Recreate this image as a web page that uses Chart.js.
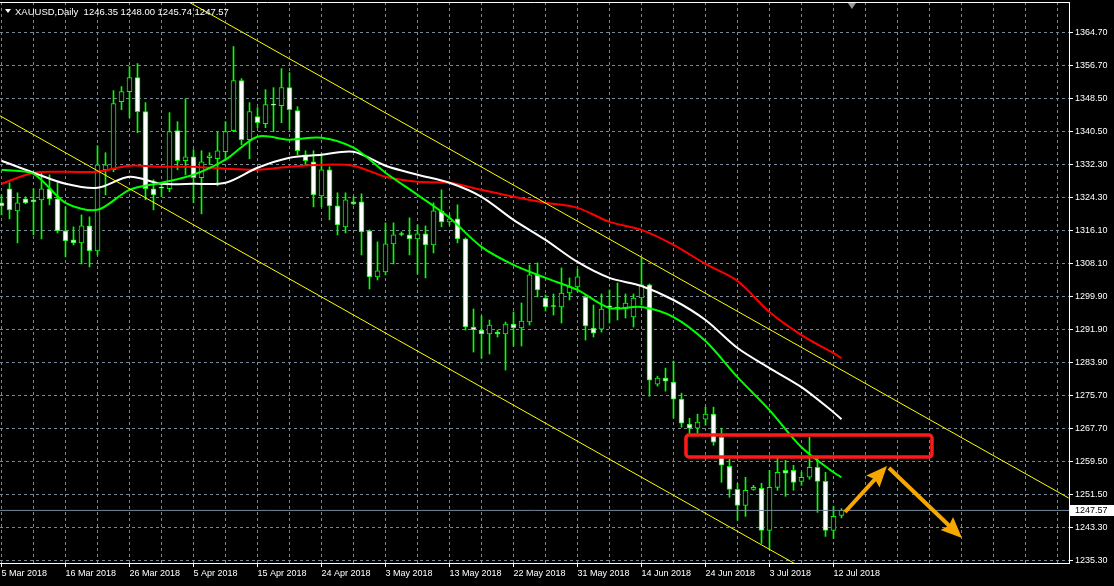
<!DOCTYPE html>
<html>
<head>
<meta charset="utf-8">
<title>XAUUSD Daily</title>
<script src="https://cdn.jsdelivr.net/npm/chart.js@4.4.0/dist/chart.umd.min.js"></script>
<style>
    html, body { margin: 0; padding: 0; background: #000; }
    canvas { display: block; }
</style>
</head>
<body>
<canvas id="goldChart" width="1114" height="586"></canvas>
<script>
// tick labels
const dateLabels = ['5 Mar 2018', '16 Mar 2018', '26 Mar 2018', '5 Apr 2018', '15 Apr 2018', '24 Apr 2018', '3 May 2018',
    '13 May 2018', '22 May 2018', '31 May 2018', '14 Jun 2018', '24 Jun 2018', '3 Jul 2018', '12 Jul 2018'];
const priceTicks = [1364.70, 1356.70, 1348.50, 1340.50, 1332.30, 1324.30, 1316.10, 1308.10, 1299.90,
    1291.90, 1283.90, 1275.70, 1267.70, 1259.50, 1251.50, 1243.30, 1235.30];

// daily candles, one entry per bar
const opens = [
    1322.96, 1326.40, 1321.00, 1323.94, 1323.70, 1323.70, 1326.40, 1323.94, 1316.08, 1313.88,
    1313.14, 1317.31, 1311.17, 1331.06, 1331.06, 1347.76, 1350.21, 1353.65, 1345.30, 1326.40,
    1326.80, 1326.40, 1340.64, 1333.27, 1334.25, 1329.10, 1334.01, 1333.76, 1335.48, 1340.64,
    1352.91, 1338.43, 1344.07, 1342.36, 1347.15, 1346.77, 1351.19, 1345.55, 1334.74, 1333.03,
    1324.68, 1331.06, 1322.22, 1317.07, 1323.20, 1323.20, 1316.08, 1304.79, 1306.02, 1312.89,
    1315.45, 1315.10, 1314.12, 1315.35, 1312.65, 1321.00, 1318.29, 1319.03, 1314.12, 1292.52,
    1291.78, 1290.80, 1291.29, 1290.80, 1293.25, 1292.27, 1293.74, 1305.28, 1299.64, 1297.80,
    1297.43, 1300.86, 1302.34, 1299.88, 1292.27, 1292.02, 1297.70, 1297.43, 1296.94, 1294.97,
    1299.64, 1302.83, 1278.52, 1279.99, 1279.01, 1274.84, 1268.70, 1267.72, 1269.93, 1271.15,
    1265.51, 1258.39, 1252.74, 1248.81, 1252.74, 1252.99, 1242.67, 1253.23, 1257.41, 1257.41,
    1254.70, 1255.69, 1258.14, 1254.70, 1242.67, 1246.35
];
const highs = [
    1324.92, 1327.87, 1325.41, 1324.43, 1326.40, 1330.33, 1329.83, 1327.87, 1321.98, 1317.07,
    1320.01, 1319.52, 1336.95, 1335.24, 1350.46, 1351.44, 1356.35, 1357.09, 1347.51, 1328.61,
    1327.38, 1345.06, 1342.85, 1348.49, 1335.97, 1335.73, 1335.24, 1340.39, 1342.85, 1361.26,
    1353.40, 1347.51, 1346.28, 1350.70, 1351.19, 1355.86, 1354.88, 1346.53, 1335.73, 1335.73,
    1334.99, 1331.80, 1325.41, 1325.41, 1324.43, 1325.17, 1316.33, 1313.38, 1318.05, 1318.05,
    1315.84, 1319.28, 1317.56, 1317.31, 1322.96, 1326.15, 1320.01, 1322.47, 1314.37, 1296.94,
    1295.22, 1294.23, 1291.78, 1293.74, 1296.20, 1298.41, 1307.74, 1308.23, 1300.37, 1300.62,
    1307.00, 1304.55, 1306.75, 1300.37, 1297.92, 1300.62, 1301.60, 1303.32, 1300.62, 1300.62,
    1309.46, 1303.07, 1280.48, 1282.45, 1284.17, 1276.31, 1270.17, 1271.15, 1272.87, 1272.87,
    1267.72, 1260.11, 1254.21, 1255.69, 1253.72, 1254.21, 1257.41, 1260.35, 1259.86, 1258.63,
    1256.91, 1265.51, 1260.35, 1256.91, 1248.57, 1248.00
];
const lows = [
    1320.01, 1319.03, 1313.14, 1322.71, 1315.10, 1314.12, 1322.47, 1315.59, 1309.70, 1312.65,
    1307.98, 1307.25, 1310.19, 1324.92, 1330.57, 1345.79, 1343.83, 1340.15, 1323.70, 1321.24,
    1324.43, 1325.66, 1331.06, 1329.83, 1322.96, 1320.26, 1332.29, 1327.13, 1333.52, 1340.39,
    1337.20, 1333.76, 1341.37, 1341.37, 1340.39, 1342.60, 1340.88, 1334.74, 1332.29, 1321.98,
    1321.98, 1318.79, 1315.10, 1315.59, 1322.47, 1310.19, 1301.85, 1304.05, 1305.28, 1307.98,
    1314.86, 1310.19, 1305.53, 1304.55, 1310.68, 1317.07, 1317.56, 1313.14, 1291.78, 1286.38,
    1284.90, 1285.89, 1290.06, 1281.96, 1287.85, 1287.85, 1293.01, 1299.88, 1296.44, 1295.46,
    1293.50, 1299.14, 1301.11, 1289.32, 1290.06, 1291.29, 1293.50, 1294.23, 1294.73, 1292.52,
    1297.92, 1275.57, 1278.03, 1276.80, 1270.17, 1267.96, 1266.49, 1266.49, 1268.45, 1263.54,
    1254.46, 1250.78, 1245.13, 1246.11, 1252.50, 1239.48, 1238.01, 1252.50, 1251.02, 1252.50,
    1253.72, 1255.20, 1247.09, 1241.20, 1240.71, 1245.74
];
const closes = [
    1322.22, 1321.24, 1322.96, 1322.96, 1323.20, 1326.40, 1323.94, 1316.08, 1313.63, 1313.14,
    1317.31, 1311.17, 1332.29, 1332.29, 1347.27, 1350.21, 1353.65, 1345.30, 1326.40, 1324.92,
    1326.55, 1340.39, 1333.27, 1334.25, 1329.10, 1333.03, 1334.50, 1335.73, 1340.39, 1352.91,
    1338.43, 1345.30, 1342.60, 1347.02, 1346.90, 1351.19, 1345.79, 1335.73, 1333.27, 1324.92,
    1331.06, 1322.22, 1317.56, 1323.70, 1322.71, 1315.84, 1304.79, 1306.26, 1312.89, 1315.10,
    1315.20, 1314.12, 1315.35, 1312.65, 1321.00, 1318.29, 1319.03, 1314.12, 1292.52, 1291.78,
    1290.80, 1293.01, 1290.80, 1293.25, 1292.27, 1293.99, 1305.28, 1301.60, 1297.43, 1297.55,
    1300.86, 1302.34, 1304.79, 1292.76, 1291.04, 1296.94, 1297.45, 1296.94, 1298.41, 1299.64,
    1302.83, 1279.50, 1279.99, 1279.26, 1274.84, 1268.95, 1267.72, 1269.19, 1271.15, 1264.28,
    1258.63, 1252.74, 1248.81, 1252.50, 1253.23, 1242.67, 1253.23, 1256.91, 1256.67, 1254.46,
    1255.69, 1258.14, 1254.70, 1242.67, 1246.11, 1247.57
];

// moving averages, read every 4th bar (plus the last one)
const maIndex = [0, 4, 8, 12, 16, 20, 24, 28, 32, 36, 40, 44, 48, 52, 56, 60, 64, 68, 72, 76, 80, 84, 88, 92, 96, 100, 104, 105];
const maFast = [1331.06, 1330.08, 1322.96, 1321.24, 1326.15, 1327.87, 1329.83, 1333.52, 1339.16, 1338.43, 1338.92, 1336.46, 1330.33, 1324.92,
    1319.28, 1312.16, 1307.74, 1304.55, 1301.60, 1297.18, 1297.43, 1294.97, 1289.08, 1280.24, 1272.14, 1263.05, 1256.91, 1255.69];
const maMid = [1333.27, 1330.33, 1327.62, 1326.64, 1329.34, 1327.62, 1327.62, 1327.87, 1331.55, 1334.01, 1334.74, 1335.48, 1332.04, 1329.83,
    1327.87, 1324.43, 1318.79, 1313.88, 1308.47, 1304.55, 1302.58, 1299.14, 1294.23, 1287.36, 1282.45, 1277.78, 1271.65, 1269.93];
const maSlow = [1327.62, 1330.33, 1330.57, 1330.57, 1332.04, 1331.80, 1331.80, 1331.31, 1331.06, 1331.80, 1332.29, 1332.04, 1329.34, 1328.12,
    1327.87, 1326.15, 1324.43, 1322.96, 1321.73, 1318.29, 1316.33, 1312.65, 1307.98, 1303.81, 1296.20, 1290.55, 1286.13, 1284.90];

// channel lines (bar index, price)
const upperChannel = [{x: 20, y: 1375.95}, {x: 133.4, y: 1250.6}];
const lowerChannel = [{x: -0.2, y: 1344.3}, {x: 133.4, y: 1196.7}];

const lastPrice = 1247.57;
const headerText = 'XAUUSD,Daily  1246.35 1248.00 1245.74 1247.57';

// drawn objects (bar index, price)
const zone = {from: 85.56, to: 116.31, top: 1266.05, bottom: 1260.66};
const arrowPoints = [{x: 105.44, y: 1247.18}, {x: 110.69, y: 1258.45}, {x: 120.06, y: 1240.81}];
const shiftMark = 106.3;

const xMin = -0.1875, xMax = 133.4375;
const gridColor = '#778899';

Chart.defaults.font.family = 'Liberation Sans';
Chart.defaults.font.size = 9;
Chart.defaults.color = '#ffffff';

function drawArrow(ctx, x1, y1, x2, y2) {
    let ang = Math.atan2(y2 - y1, x2 - x1);
    let head = 18, half = 9;
    let bx = x2 - head * Math.cos(ang), by = y2 - head * Math.sin(ang);
    ctx.beginPath();
    ctx.moveTo(x1, y1);
    ctx.lineTo(bx + 4 * Math.cos(ang), by + 4 * Math.sin(ang));
    ctx.lineWidth = 4;
    ctx.stroke();
    ctx.beginPath();
    ctx.moveTo(x2, y2);
    ctx.lineTo(bx + half * Math.sin(ang) - 3 * Math.cos(ang), by - half * Math.cos(ang) - 3 * Math.sin(ang));
    ctx.lineTo(bx, by);
    ctx.lineTo(bx - half * Math.sin(ang) - 3 * Math.cos(ang), by + half * Math.cos(ang) - 3 * Math.sin(ang));
    ctx.closePath();
    ctx.fill();
}

const overlay = {
    id: 'overlay',
    afterDatasetsDraw(chart) {
        let ctx = chart.ctx, xs = chart.scales.x, ys = chart.scales.y;
        ctx.save();
        // red zone
        let zx0 = xs.getPixelForValue(zone.from), zx1 = xs.getPixelForValue(zone.to);
        let zy0 = ys.getPixelForValue(zone.top), zy1 = ys.getPixelForValue(zone.bottom);
        ctx.strokeStyle = '#ff1a1a';
        ctx.lineWidth = 3.5;
        ctx.beginPath();
        ctx.roundRect(zx0, zy0, zx1 - zx0, zy1 - zy0, 3);
        ctx.stroke();
        // arrows
        ctx.strokeStyle = '#f7a800';
        ctx.fillStyle = '#f7a800';
        let p = arrowPoints.map(a => [xs.getPixelForValue(a.x), ys.getPixelForValue(a.y)]);
        drawArrow(ctx, p[0][0], p[0][1], p[1][0], p[1][1]);
        drawArrow(ctx, p[1][0] + 2, p[1][1] + 2, p[2][0], p[2][1]);
        ctx.restore();
    },
    afterDraw(chart) {
        let ctx = chart.ctx, area = chart.chartArea, xs = chart.scales.x, ys = chart.scales.y;
        ctx.save();
        // top frame
        ctx.strokeStyle = '#ffffff';
        ctx.lineWidth = 1;
        ctx.beginPath();
        ctx.moveTo(area.left, area.top + 0.5);
        ctx.lineTo(area.right + 0.5, area.top + 0.5);
        ctx.stroke();
        // shift marker
        let sx = xs.getPixelForValue(shiftMark);
        ctx.fillStyle = '#9a9a9a';
        ctx.beginPath();
        ctx.moveTo(sx - 4, area.top + 1);
        ctx.lineTo(sx + 4, area.top + 1);
        ctx.lineTo(sx, area.top + 7);
        ctx.closePath();
        ctx.fill();
        // header
        ctx.fillStyle = '#ffffff';
        ctx.beginPath();
        ctx.moveTo(5, 9);
        ctx.lineTo(11, 9);
        ctx.lineTo(8, 13);
        ctx.closePath();
        ctx.fill();
        ctx.font = '9.5px "Liberation Sans"';
        ctx.textBaseline = 'middle';
        ctx.fillText(headerText, 15, 12);
        // last price box
        let py = Math.round(ys.getPixelForValue(lastPrice));
        ctx.font = '9px "Liberation Sans"';
        ctx.fillStyle = '#ffffff';
        ctx.fillRect(area.right + 1, py - 5, chart.width - area.right - 1, 11);
        ctx.fillStyle = '#000000';
        ctx.fillText(lastPrice.toFixed(2), area.right + 6, py + 0.5);
        ctx.restore();
    }
};

let bodyData = opens.map((o, i) => ({x: i, y: [o, closes[i]]}));
let wickData = lows.map((l, i) => ({x: i, y: [l, highs[i]]}));
let maLine = arr => arr.map((v, i) => ({x: maIndex[i], y: v}));

let goldChartEl = document.getElementById('goldChart').getContext('2d');
let goldChart = new Chart(goldChartEl, {
    data: {
        datasets: [
            {
                type: 'line',
                label: 'Last price',
                data: [{x: xMin, y: lastPrice}, {x: xMax, y: lastPrice}],
                borderColor: gridColor,
                borderWidth: 1,
                pointRadius: 0,
                order: 0
            },
            {
                type: 'line',
                label: 'Upper channel',
                data: upperChannel,
                borderColor: '#ffff00',
                borderWidth: 1,
                pointRadius: 0,
                order: 0
            },
            {
                type: 'line',
                label: 'Lower channel',
                data: lowerChannel,
                borderColor: '#ffff00',
                borderWidth: 1,
                pointRadius: 0,
                order: 0
            },
            {
                type: 'line',
                label: 'MA fast',
                data: maLine(maFast),
                borderColor: '#00ff00',
                borderWidth: 2,
                pointRadius: 0,
                tension: 0.3,
                order: 1
            },
            {
                type: 'line',
                label: 'MA mid',
                data: maLine(maMid),
                borderColor: '#ffffff',
                borderWidth: 2,
                pointRadius: 0,
                tension: 0.3,
                order: 1
            },
            {
                type: 'line',
                label: 'MA slow',
                data: maLine(maSlow),
                borderColor: '#ff0000',
                borderWidth: 2,
                pointRadius: 0,
                tension: 0.3,
                order: 1
            },
            {
                type: 'bar',
                label: 'Body',
                data: bodyData,
                grouped: false,
                barThickness: 5,
                maxBarThickness: 5,
                minBarLength: 1,
                borderWidth: 1,
                borderSkipped: false,
                borderColor: '#00ff00',
                backgroundColor: bodyData.map(d => d.y[1] >= d.y[0] ? '#000000' : '#ffffff'),
                order: 2
            },
            {
                type: 'bar',
                label: 'Wick',
                data: wickData,
                grouped: false,
                barThickness: 1,
                maxBarThickness: 1,
                borderWidth: 0,
                backgroundColor: '#00ff00',
                order: 3
            }
        ]
    },
    options: {
        responsive: false,
        devicePixelRatio: 1,
        animation: false,
        events: [],
        layout: { padding: { top: 2, left: 0, right: 0, bottom: 0 } },
        scales: {
            x: {
                type: 'linear',
                offset: false,
                min: xMin,
                max: xMax,
                afterBuildTicks: s => {
                    s.ticks = [];
                    for (let k = 0; k <= 132; k += 4) s.ticks.push({value: k});
                },
                afterFit: s => {
                    s.height = 23;
                    s.paddingLeft = 0;
                    s.paddingRight = 0;
                },
                grid: {
                    offset: false,
                    color: gridColor,
                    tickLength: 4,
                    tickColor: c => (c.tick && c.tick.label) ? '#ffffff' : 'rgba(0,0,0,0)'
                },
                border: { color: '#ffffff', dash: [3, 3] },
                ticks: {
                    autoSkip: false,
                    maxRotation: 0,
                    align: 'start',
                    padding: 1,
                    color: '#ffffff',
                    callback: v => (v % 8 === 0 && v / 8 < dateLabels.length) ? dateLabels[v / 8] : ''
                }
            },
            y: {
                position: 'right',
                min: 1234.68,
                max: 1372.18,
                afterBuildTicks: s => {
                    s.ticks = priceTicks.map(v => ({value: v}));
                },
                afterFit: s => {
                    s.width = 45;
                    s.paddingTop = 0;
                    s.paddingBottom = 0;
                },
                grid: { color: gridColor, tickLength: 4, tickColor: '#ffffff' },
                border: { color: '#ffffff', dash: [3, 3] },
                ticks: {
                    padding: 2,
                    color: '#ffffff',
                    callback: v => v.toFixed(2)
                }
            }
        },
        plugins: {
            legend: { display: false },
            tooltip: { enabled: false },
            title: { display: false }
        }
    },
    plugins: [overlay]
});
</script>
</body>
</html>
